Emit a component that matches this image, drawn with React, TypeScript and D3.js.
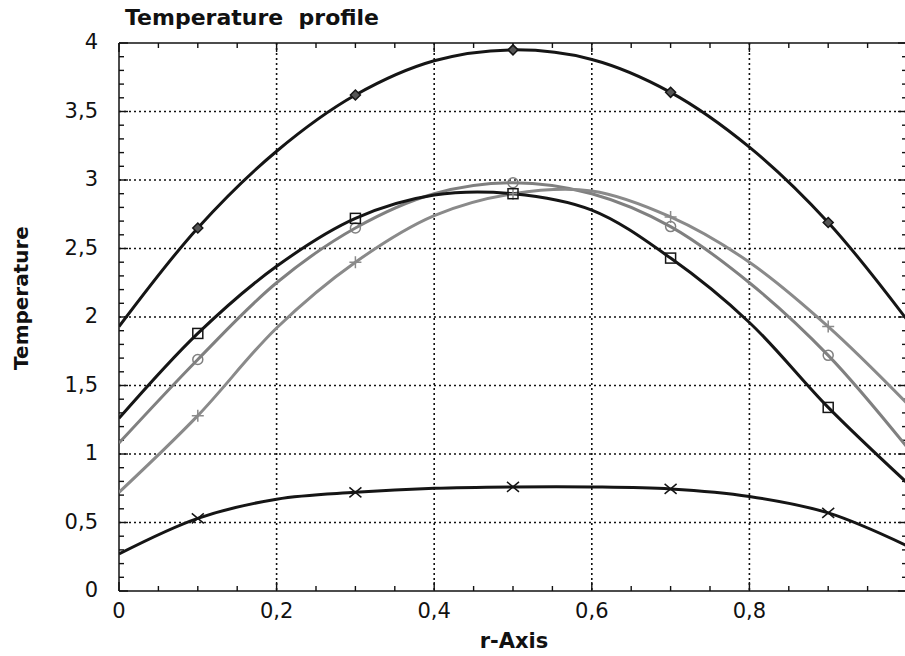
import React from "react";
import * as d3 from "d3";

const rValues = [0, 0.1, 0.2, 0.3, 0.4, 0.5, 0.6, 0.7, 0.8, 0.9, 1.0];
const markerIdx = [1, 3, 5, 7, 9];

const diamondSeries = [1.93, 2.65, 3.21, 3.62, 3.87, 3.95, 3.88, 3.64, 3.24, 2.69, 1.98];
const squareSeries = [1.26, 1.88, 2.37, 2.72, 2.89, 2.9, 2.78, 2.43, 1.96, 1.34, 0.79];
const circleSeries = [1.08, 1.69, 2.25, 2.65, 2.9, 2.98, 2.9, 2.66, 2.25, 1.72, 1.05];
const plusSeries = [0.72, 1.28, 1.92, 2.4, 2.74, 2.9, 2.92, 2.73, 2.4, 1.93, 1.37];
const crossSeries = [0.27, 0.53, 0.67, 0.72, 0.75, 0.76, 0.76, 0.745, 0.69, 0.57, 0.33];

const xTickValues = [0, 0.2, 0.4, 0.6, 0.8];
const xTickLabels = ["0", "0,2", "0,4", "0,6", "0,8"];
const yTickValues = [0, 0.5, 1, 1.5, 2, 2.5, 3, 3.5, 4];
const yTickLabels = ["0", "0,5", "1", "1,5", "2", "2,5", "3", "3,5", "4"];

type Marker = "diamond" | "square" | "circle" | "plus" | "cross";
const seriesList: { values: number[]; color: string; marker: Marker }[] = [
  { values: diamondSeries, color: "#151515", marker: "diamond" },
  { values: circleSeries, color: "#808080", marker: "circle" },
  { values: plusSeries, color: "#8a8a8a", marker: "plus" },
  { values: squareSeries, color: "#151515", marker: "square" },
  { values: crossSeries, color: "#151515", marker: "cross" },
];

const W = 905;
const H = 656;
const L = 119;
const R = 907;
const T = 43;
const B = 591;

export default function App() {
  const x = d3.scaleLinear().domain([0, 1]).range([L, R]);
  const y = d3.scaleLinear().domain([0, 4]).range([B, T]);
  const line = d3
    .line<number>()
    .x((_, i) => x(rValues[i]))
    .y((d) => y(d))
    .curve(d3.curveCatmullRom.alpha(0.5));

  const minorX = d3.range(0, 1.0001, 0.05);
  const minorY = d3.range(0, 4.0001, 0.1);

  const renderMarker = (m: Marker, cx: number, cy: number, color: string, key: string) => {
    const s = 5;
    switch (m) {
      case "diamond":
        return (
          <path key={key} d={`M${cx},${cy - s}L${cx + s},${cy}L${cx},${cy + s}L${cx - s},${cy}Z`} fill="#555" stroke={color} strokeWidth={1.5} />
        );
      case "square":
        return <rect key={key} x={cx - 5} y={cy - 5} width={10} height={10} fill="none" stroke={color} strokeWidth={1.5} />;
      case "circle":
        return <circle key={key} cx={cx} cy={cy} r={5} fill="none" stroke={color} strokeWidth={1.5} />;
      case "plus":
        return <path key={key} d={`M${cx - 6},${cy}H${cx + 6}M${cx},${cy - 6}V${cy + 6}`} stroke={color} strokeWidth={1.5} />;
      case "cross":
        return <path key={key} d={`M${cx - 6},${cy - 5}L${cx + 6},${cy + 5}M${cx - 6},${cy + 5}L${cx + 6},${cy - 5}`} stroke={color} strokeWidth={1.5} />;
    }
  };

  return (
    <svg
      width={W}
      height={H}
      style={{ position: "absolute", left: 0, top: 0, background: "#fff" }}
      fontFamily="'DejaVu Sans', Verdana, sans-serif"
    >
      <defs>
        <clipPath id="plot">
          <rect x={L} y={T - 10} width={R - L} height={B - T + 10} />
        </clipPath>
      </defs>
      <rect width={W} height={H} fill="#fff" />
      {/* grid */}
      {xTickValues.slice(1).map((v) => (
        <line key={"gx" + v} x1={x(v)} x2={x(v)} y1={T} y2={B} stroke="#111" strokeWidth={1.6} strokeDasharray="2,3" />
      ))}
      {yTickValues.slice(1, -1).map((v) => (
        <line key={"gy" + v} x1={L} x2={R} y1={y(v)} y2={y(v)} stroke="#111" strokeWidth={1.4} strokeDasharray="2,3" />
      ))}
      {/* frame */}
      <line x1={L} x2={L} y1={T} y2={B} stroke="#111" strokeWidth={1.5} />
      <line x1={L} x2={R} y1={B} y2={B} stroke="#111" strokeWidth={1.5} />
      <line x1={L} x2={R} y1={T} y2={T} stroke="#111" strokeWidth={1.5} />
      <line x1={R} x2={R} y1={T} y2={B} stroke="#111" strokeWidth={1.5} />
      {/* ticks */}
      {minorX.map((v, i) => {
        const major = i % 4 === 0;
        const len = major ? 9 : 5;
        return (
          <g key={"tx" + i}>
            <line x1={x(v)} x2={x(v)} y1={B} y2={B - len} stroke="#111" strokeWidth={1.4} />
            <line x1={x(v)} x2={x(v)} y1={T} y2={T + len} stroke="#111" strokeWidth={1.4} />
          </g>
        );
      })}
      {minorY.map((v, i) => {
        const major = i % 5 === 0;
        const len = major ? 9 : 5;
        return (
          <g key={"ty" + i}>
            <line x1={L} x2={L + len} y1={y(v)} y2={y(v)} stroke="#111" strokeWidth={1.4} />
            <line x1={R} x2={R - len} y1={y(v)} y2={y(v)} stroke="#111" strokeWidth={1.4} />
          </g>
        );
      })}
      {/* curves */}
      <g clipPath="url(#plot)">
        {seriesList.map((s, si) => (
          <path key={"s" + si} d={line(s.values) || ""} fill="none" stroke={s.color} strokeWidth={3} />
        ))}
        {seriesList.map((s, si) =>
          markerIdx.map((i) => renderMarker(s.marker, x(rValues[i]), y(s.values[i]), s.color, `m${si}-${i}`))
        )}
      </g>
      {/* tick labels */}
      {yTickValues.map((v, i) => (
        <text key={"yl" + i} x={98} y={y(v)} dy="0.3em" textAnchor="end" fontSize={21} fill="#111">
          {yTickLabels[i]}
        </text>
      ))}
      {xTickValues.map((v, i) => (
        <text key={"xl" + i} x={x(v)} y={618} textAnchor="middle" fontSize={21} fill="#111">
          {xTickLabels[i]}
        </text>
      ))}
      {/* titles */}
      <text x={125} y={25} fontSize={22} fontWeight="bold" fill="#111" style={{ whiteSpace: "pre" }}>
        {"Temperature  profile"}
      </text>
      <text x={514} y={648} textAnchor="middle" fontSize={21} fontWeight="bold" fill="#111">
        r-Axis
      </text>
      <text transform={`translate(28,298) rotate(-90)`} textAnchor="middle" fontSize={20} fontWeight="bold" fill="#111">
        Temperature
      </text>
    </svg>
  );
}
